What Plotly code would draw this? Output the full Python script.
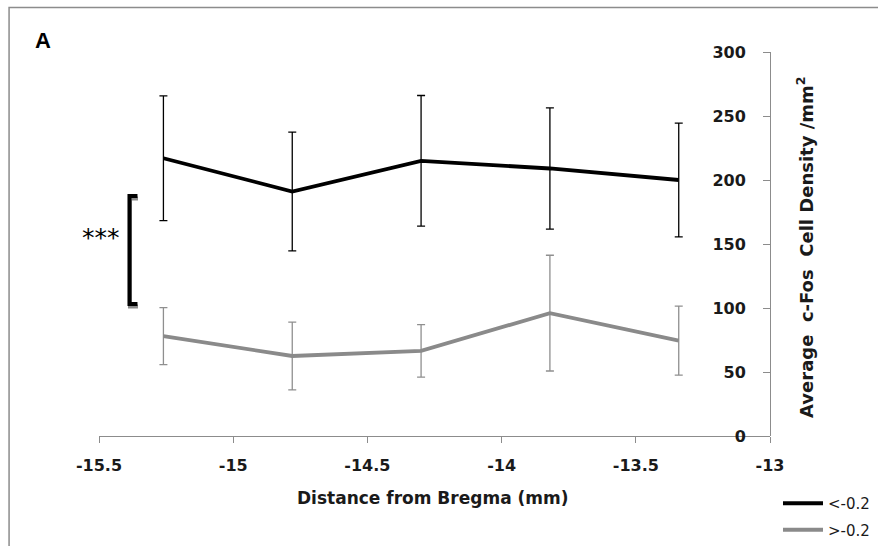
import plotly.graph_objects as go

# ---- data ----
distance = [-15.26, -14.78, -14.30, -13.82, -13.34]
series_names = ["<-0.2", ">-0.2"]
low_mean = [217, 191, 215, 209, 200]
low_err = [48.7, 46.4, 51.0, 47.4, 44.5]
high_mean = [78, 62.5, 66.5, 96, 74.5]
high_err = [22.3, 26.5, 20.5, 45.2, 27.0]
x_ticks = [-15.5, -15, -14.5, -14, -13.5, -13]
y_ticks = [0, 50, 100, 150, 200, 250, 300]

W, H = 878, 546
L, R, T, B = 98.5, 770, 52, 436
PW, PH = R - L, B - T


def px(xp):
    return (xp - L) / PW


def py(yp):
    return (B - yp) / PH


FONT = "DejaVu Sans"
TXT = "#1a1a1a"

fig = go.Figure()
fig.add_trace(go.Scatter(
    x=distance, y=low_mean, mode="lines", name=series_names[0],
    legendgroup="a",
    line=dict(color="#000000", width=3.8),
    error_y=dict(type="data", array=low_err, visible=True, color="#000000",
                 thickness=1.3, width=4),
))
fig.add_trace(go.Scatter(
    x=distance, y=high_mean, mode="lines", name=series_names[1],
    legendgroup="b",
    line=dict(color="#8a8a8a", width=3.8),
    error_y=dict(type="data", array=high_err, visible=True, color="#8f8f8f",
                 thickness=1.3, width=4),
))

fig.update_layout(
    width=W, height=H,
    margin=dict(l=L, r=W - R, t=T, b=H - B, autoexpand=False),
    paper_bgcolor="white", plot_bgcolor="white",
    showlegend=True,
    legend=dict(x=px(778), y=py(487), xanchor="left", yanchor="top",
                font=dict(family=FONT, size=15, color=TXT),
                bgcolor="rgba(0,0,0,0)", itemwidth=40,
                traceorder="grouped", tracegroupgap=4),
    xaxis=dict(
        range=[-15.5, -13], tickvals=x_ticks, ticktext=[str(v) for v in x_ticks],
        showgrid=False, zeroline=False, showline=True, linecolor="#8c8c8c",
        linewidth=1, ticks="outside", ticklen=6, tickcolor="#8c8c8c",
        tickfont=dict(family=FONT, size=16, color=TXT, weight="bold"),
        ticklabelstandoff=9,
        domain=[0, 1],
    ),
    yaxis=dict(
        range=[0, 300], tickvals=y_ticks, showgrid=False, zeroline=False,
        showline=True, linecolor="#8c8c8c", linewidth=1, ticks="outside",
        ticklen=7, tickcolor="#8c8c8c", side="left", anchor="free", position=1,
        tickfont=dict(family=FONT, size=16, color=TXT, weight="bold"),
        ticklabelstandoff=14,
    ),
)

# axis titles
fig.add_annotation(x=px(433), y=py(498), xref="paper", yref="paper",
                   xanchor="center", yanchor="middle",
                   text="<b>Distance from Bregma (mm)</b>", showarrow=False,
                   font=dict(family=FONT, size=17, color=TXT))
fig.add_annotation(x=px(805), y=py(247), xref="paper", yref="paper",
                   xanchor="center", yanchor="middle",
                   text="<b>Average&nbsp; c-Fos&nbsp; Cell Density /mm<sup>2</sup></b>",
                   textangle=-90, showarrow=False,
                   font=dict(family=FONT, size=18, color=TXT))
# panel label
fig.add_annotation(x=px(32), y=py(40), xref="paper", yref="paper",
                   xanchor="left", yanchor="middle",
                   text="<b>A</b>", showarrow=False,
                   font=dict(family="Liberation Sans", size=22, color="#000000"))
# significance stars
fig.add_annotation(x=px(122), y=py(237), xref="paper", yref="paper",
                   xanchor="right", yanchor="middle",
                   text="***", showarrow=False,
                   font=dict(family="DejaVu Sans", size=25, color="#000000"))

# bracket (shadow + black)
def bracket(dx, dy, color):
    x0, x1 = px(129 + dx), px(137 + dx)
    y0, y1 = py(196 + dy), py(304 + dy)
    return dict(type="path", xref="paper", yref="paper",
                path=f"M {x1},{y0} L {x0},{y0} L {x0},{y1} L {x1},{y1}",
                line=dict(color=color, width=4))

fig.add_shape(**bracket(0.5, 2.5, "#8a8a8a"))
fig.add_shape(**bracket(0, 0, "#000000"))

# outer frame (top and left edges)
fig.add_shape(type="rect", xref="paper", yref="paper",
              x0=px(8.5), y0=py(560), x1=px(890), y1=py(7.5),
              line=dict(color="#8c8c8c", width=1.5), layer="below")

fig.write_html("out.html")
